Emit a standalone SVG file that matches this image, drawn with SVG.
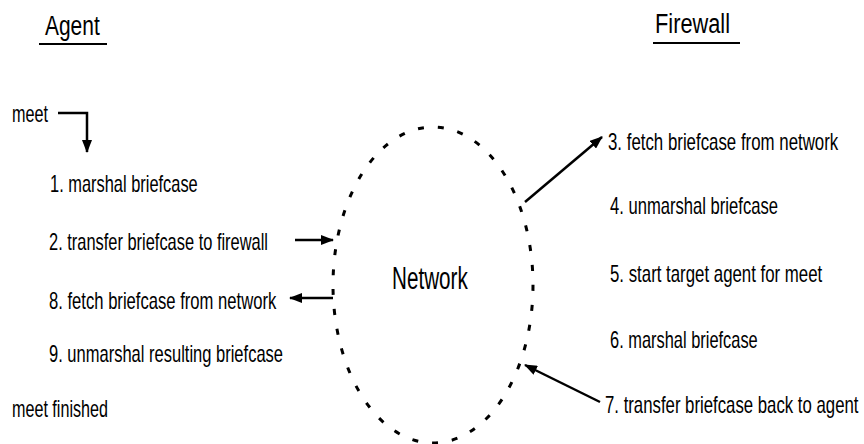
<svg xmlns="http://www.w3.org/2000/svg" width="864" height="444" viewBox="0 0 864 444">
<style>
text{font-family:"Liberation Sans",Arial,sans-serif;fill:#000}
.t{font-size:23px}
.h{font-size:27px}
.n{font-size:31px}
.ln{stroke:#000;stroke-width:2.5;fill:none}
.ul{stroke:#000;stroke-width:2}
</style>
<defs>
<marker id="ah" markerUnits="userSpaceOnUse" markerWidth="13" markerHeight="10" refX="12" refY="5" orient="auto">
<path d="M0,0 L13,5 L0,10 Z" fill="#000"/>
</marker>
</defs>
<g id="title-agent">
<text class="h" transform="translate(45,35) scale(0.75,1)" textLength="73" lengthAdjust="spacingAndGlyphs">Agent</text>
<line class="ul" x1="39" y1="44" x2="107" y2="44"/>
</g>
<g id="title-firewall">
<text class="h" transform="translate(655,33) scale(0.75,1)" textLength="100" lengthAdjust="spacingAndGlyphs">Firewall</text>
<line class="ul" x1="653" y1="43" x2="740" y2="43"/>
</g>
<g id="network">
<ellipse cx="433" cy="285" rx="100" ry="158" fill="none" stroke="#000" stroke-width="3" stroke-dasharray="6 14"/>
<text class="n" transform="translate(392,289) scale(0.75,1)" textLength="101" lengthAdjust="spacingAndGlyphs">Network</text>
</g>
<g id="agent-steps">
<text class="t" transform="translate(12,122) scale(0.75,1)" textLength="48" lengthAdjust="spacingAndGlyphs">meet</text>
<text class="t" transform="translate(50,192) scale(0.75,1)" textLength="197" lengthAdjust="spacingAndGlyphs">1. marshal briefcase</text>
<text class="t" transform="translate(49,250) scale(0.75,1)" textLength="292" lengthAdjust="spacingAndGlyphs">2. transfer briefcase to firewall</text>
<text class="t" transform="translate(49,309) scale(0.75,1)" textLength="303" lengthAdjust="spacingAndGlyphs">8. fetch briefcase from network</text>
<text class="t" transform="translate(49,362) scale(0.75,1)" textLength="312" lengthAdjust="spacingAndGlyphs">9. unmarshal resulting briefcase</text>
<text class="t" transform="translate(12,417) scale(0.75,1)" textLength="128" lengthAdjust="spacingAndGlyphs">meet finished</text>
</g>
<g id="firewall-steps">
<text class="t" transform="translate(608,150) scale(0.75,1)" textLength="307" lengthAdjust="spacingAndGlyphs">3. fetch briefcase from network</text>
<text class="t" transform="translate(610,214) scale(0.75,1)" textLength="224" lengthAdjust="spacingAndGlyphs">4. unmarshal briefcase</text>
<text class="t" transform="translate(610,282) scale(0.75,1)" textLength="283" lengthAdjust="spacingAndGlyphs">5. start target agent for meet</text>
<text class="t" transform="translate(610,348) scale(0.75,1)" textLength="197" lengthAdjust="spacingAndGlyphs">6. marshal briefcase</text>
<text class="t" transform="translate(605,413) scale(0.72,1)" textLength="352" lengthAdjust="spacingAndGlyphs">7. transfer briefcase back to agent</text>
</g>
<g id="connectors">
<polyline class="ln" points="58,113 87,113 87,152" marker-end="url(#ah)"/>
<line class="ln" x1="295" y1="240" x2="333" y2="240" marker-end="url(#ah)"/>
<line class="ln" x1="333" y1="298" x2="290" y2="298" marker-end="url(#ah)"/>
<line class="ln" x1="525" y1="202" x2="602" y2="137" marker-end="url(#ah)"/>
<line class="ln" x1="600" y1="402" x2="525" y2="365" marker-end="url(#ah)"/>
</g>
</svg>
